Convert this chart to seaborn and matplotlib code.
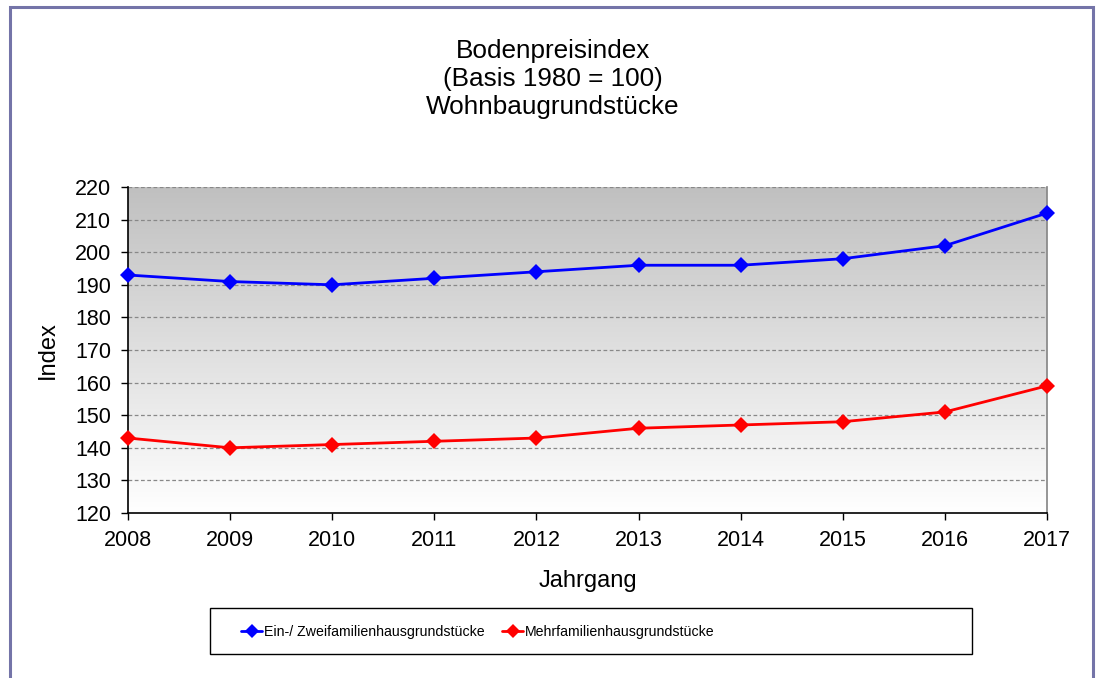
import numpy as np
import pandas as pd
import matplotlib
matplotlib.use("Agg")
import matplotlib.pyplot as plt
import seaborn as sns
from matplotlib.patches import Rectangle

years = [2008, 2009, 2010, 2011, 2012, 2013, 2014, 2015, 2016, 2017]
ein_zwei = [193, 191, 190, 192, 194, 196, 196, 198, 202, 212]
mehr = [143, 140, 141, 142, 143, 146, 147, 148, 151, 159]
series_names = ["Ein-/ Zweifamilienhausgrundstücke", "Mehrfamilienhausgrundstücke"]
yticks = list(range(120, 221, 10))

sns.set_theme(style="white")
plt.rcParams['font.family'] = ['Liberation Sans', 'DejaVu Sans']
plt.rcParams.update({"text.color": "black", "axes.labelcolor": "black",
                     "xtick.color": "black", "ytick.color": "black"})

df = pd.DataFrame({
    "Jahrgang": years * 2,
    "Index": ein_zwei + mehr,
    "Serie": [series_names[0]] * len(years) + [series_names[1]] * len(years),
})

fig = plt.figure(figsize=(10.99, 6.78), dpi=100)
fig.patch.set_facecolor("white")
fig.patches.append(Rectangle((9.5/1099, 1 - 690/678), (1092.5 - 9.5)/1099, (690 - 7)/678,
                             transform=fig.transFigure, fill=False,
                             edgecolor="#7474a8", linewidth=2.2, zorder=10))
# legend frame
fig.patches.append(Rectangle((209.5/1099, 1 - 653.5/678), (972 - 209.5)/1099, (653.5 - 608)/678,
                             transform=fig.transFigure, fill=False,
                             edgecolor="black", linewidth=1.0, zorder=10))

ax = fig.add_axes([128/1099, 1 - 513/678, (1047 - 128)/1099, (513 - 187)/678])

# gradient background: grey at top, white at bottom
grad = np.linspace(0, 1, 256).reshape(-1, 1)
cmap = matplotlib.colors.LinearSegmentedColormap.from_list("g", ["#ffffff", "#c0c0c0"])
ax.imshow(grad, extent=[0, 1, 0, 1], transform=ax.transAxes, aspect="auto",
          cmap=cmap, origin="lower", zorder=0, vmin=0, vmax=1)

sns.lineplot(data=df, x="Jahrgang", y="Index", hue="Serie", style="Serie",
             palette=["#0000ff", "#ff0000"], markers=["D", "D"], dashes=False,
             linewidth=2.0, markersize=8, markeredgewidth=0, ax=ax, zorder=3,
             clip_on=False)

ax.set_xlim(years[0], years[-1])
ax.set_ylim(yticks[0], yticks[-1])
ax.set_xticks(years)
ax.set_yticks(yticks)
ax.tick_params(axis="both", which="both", direction="out", length=5, width=1,
               color="black", labelcolor="black", labelsize=15.5, bottom=True, left=True)
ax.tick_params(axis="x", pad=7)
ax.tick_params(axis="y", pad=7)
for y in yticks[1:]:
    ax.axhline(y, color="#888888", linestyle=(0, (3, 2)), linewidth=0.9, zorder=1)

for s in ["left", "bottom"]:
    ax.spines[s].set_color("black")
    ax.spines[s].set_linewidth(1.2)
ax.spines["right"].set_color("#888888")
ax.spines["top"].set_visible(False)

ax.set_xlabel("Jahrgang", fontsize=17, labelpad=14, color="black")
ax.set_ylabel("Index", fontsize=17, labelpad=12, color="black")

fig.text(553/1099, 1 - 79/678, "Bodenpreisindex\n(Basis 1980 = 100)\nWohnbaugrundstücke",
         ha="center", va="center", fontsize=18.8, linespacing=1.22, color="black")

handles, labels = ax.get_legend_handles_labels()
leg = ax.legend(handles, labels, loc="center left", bbox_to_anchor=(241/1099, 1 - 632/678),
                bbox_transform=fig.transFigure, ncol=2, frameon=False,
                prop={'family': ['Liberation Sans', 'DejaVu Sans'], 'size': 10.2},
                handlelength=1.5, columnspacing=1.2, borderpad=0, handletextpad=0.15,
                borderaxespad=0, labelcolor="black")
for h in leg.legend_handles:
    h.set_markersize(7.5)

fig.savefig("out.png", dpi=100)
